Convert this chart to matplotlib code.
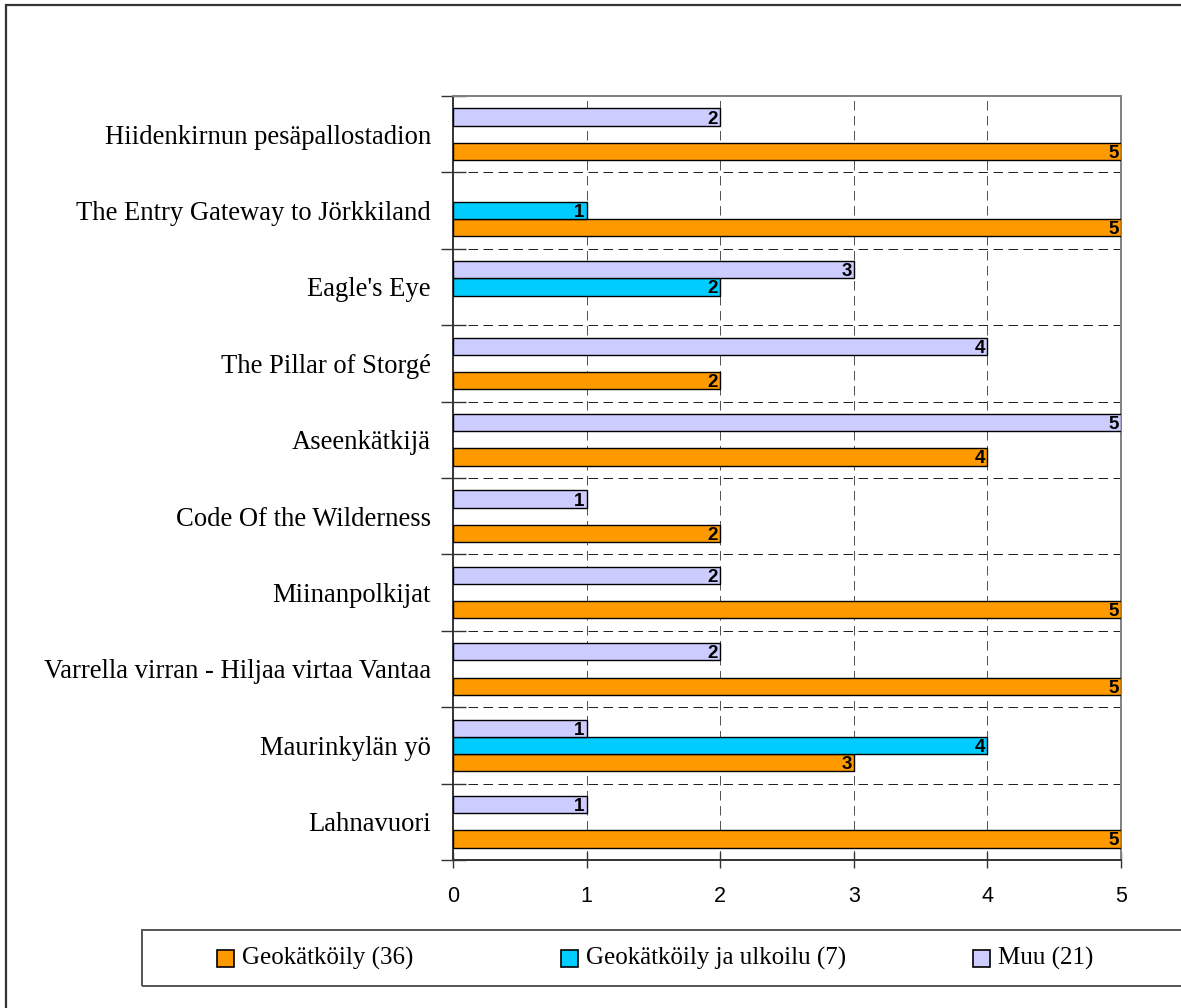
import matplotlib
matplotlib.use("Agg")
import matplotlib.pyplot as plt
from matplotlib.patches import Rectangle
import numpy as np

# Caches, listed bottom to top
categories = [
    "Lahnavuori",
    "Maurinkylän yö",
    "Varrella virran - Hiljaa virtaa Vantaa",
    "Miinanpolkijat",
    "Code Of the Wilderness",
    "Aseenkätkijä",
    "The Pillar of Storgé",
    "Eagle's Eye",
    "The Entry Gateway to Jörkkiland",
    "Hiidenkirnun pesäpallostadion",
]

series_names = ["Geokätköily (36)", "Geokätköily ja ulkoilu (7)", "Muu (21)"]
geokatkoily = [5, 3, 5, 5, 2, 4, 2, 0, 5, 5]
ulkoilu = [0, 4, 0, 0, 0, 0, 0, 2, 1, 0]
muu = [1, 1, 2, 2, 1, 5, 4, 3, 0, 2]
series_values = [geokatkoily, ulkoilu, muu]
series_colors = ["#FF9900", "#00CCFF", "#CCCCFF"]
x_ticks = [0, 1, 2, 3, 4, 5]

W, H = 1181, 1008
fig = plt.figure(figsize=(W / 100, H / 100), dpi=100)

# Outer chart frame
fig.patches.append(Rectangle((6 / W, -0.1), 1.2, 1 - 5 / H + 0.1, transform=fig.transFigure,
                             fill=False, edgecolor="#333333", linewidth=1.6))

ax = fig.add_axes([453 / W, 1 - 860 / H, (1121 - 453) / W, (860 - 96) / H])

n = len(categories)
y = np.arange(n)
bar_h = 0.225
offsets = [-bar_h, 0.0, bar_h]

for vals, color, off in zip(series_values, series_colors, offsets):
    vals = np.array(vals)
    mask = vals > 0
    ax.barh(y[mask] + off, vals[mask], height=bar_h, color=color,
            edgecolor="black", linewidth=1.0, zorder=3)
    for yi, v in zip(y[mask], vals[mask]):
        ax.text(v - 0.015, yi + off, f"{v}", ha="right", va="center_baseline",
                fontsize=13.5, fontweight="bold", family="Liberation Sans", zorder=4)

ax.set_xlim(0, 5)
ax.set_ylim(-0.5, n - 0.5)

# Dashed gridlines
for b in np.arange(n + 1)[1:-1] - 0.5:
    ax.axhline(b, color="#222222", linewidth=0.72, linestyle=(0, (9.5, 5.5)), zorder=1)
for xv in x_ticks[1:-1]:
    ax.axvline(xv, color="#555555", linewidth=0.72, linestyle=(0, (9.5, 5.5)), zorder=1)

for side in ["top", "right"]:
    ax.spines[side].set_color("#808080")
    ax.spines[side].set_linewidth(1.4)
for side in ["left", "bottom"]:
    ax.spines[side].set_color("#333333")
    ax.spines[side].set_linewidth(1.4)

ax.set_xticks(x_ticks)
ax.set_xticklabels([str(t) for t in x_ticks], fontsize=15.5, family="Liberation Sans")
ax.tick_params(axis="x", direction="inout", length=12, width=1.0, color="#333333", pad=13)

ax.set_yticks(np.arange(n + 1) - 0.5)
ax.set_yticklabels([])
ax.tick_params(axis="y", which="major", direction="inout", length=18, width=1.0, color="#333333")
ax.set_yticks(y, minor=True)
ax.set_yticklabels(categories, minor=True, fontsize=19.2, family="Liberation Serif")
ax.tick_params(axis="y", which="minor", length=0, pad=16)

# Legend box along the bottom
legend_box = Rectangle((142 / W, 1 - 986 / H), 1.0, (986 - 930) / H, transform=fig.transFigure,
                       fill=False, edgecolor="#555555", linewidth=1.4)
fig.patches.append(legend_box)
legend_x = [217, 561, 973]
sq = 17
for name, color, lx in zip(series_names, series_colors, legend_x):
    fig.patches.append(Rectangle((lx / W, 1 - (958 + sq / 2) / H), sq / W, sq / H,
                                 transform=fig.transFigure, facecolor=color,
                                 edgecolor="black", linewidth=1.2))
    fig.text((lx + sq + 8) / W, 1 - 958 / H, name, ha="left", va="center",
             fontsize=18.0, family="Liberation Serif")

fig.savefig("out.png", dpi=100)
